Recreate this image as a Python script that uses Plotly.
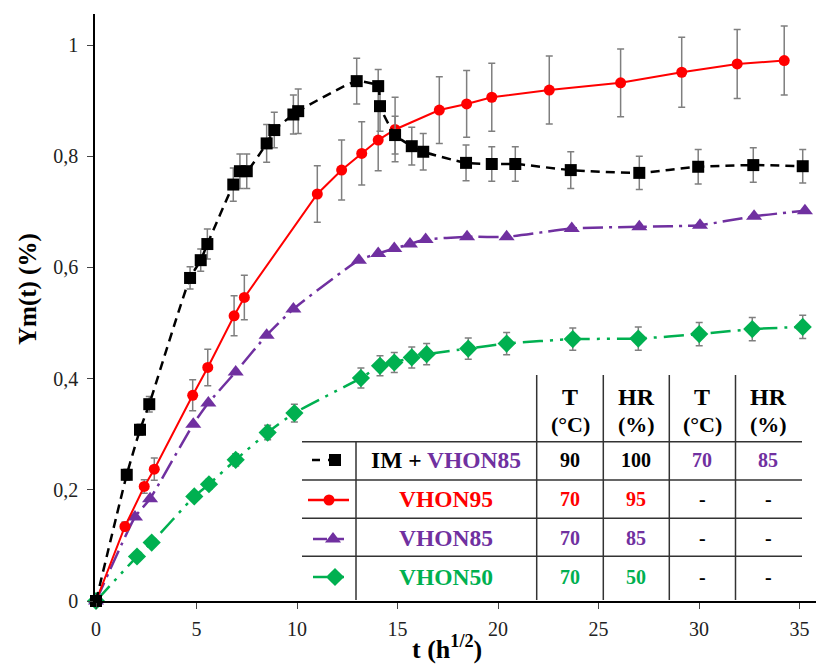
import plotly.graph_objects as go

# ---------------- data ----------------
im_x = [0, 1.53, 2.19, 2.65, 4.68, 5.21, 5.54, 6.83, 7.16, 7.5, 8.49, 8.87, 9.82, 10.06,
        12.97, 14.04, 14.13, 14.88, 15.71, 16.28, 18.41, 19.69, 20.86, 23.62, 27.03, 29.96, 32.7, 35.16]
im_y = [0, 0.227, 0.308, 0.354, 0.581, 0.613, 0.642, 0.749, 0.773, 0.773, 0.823, 0.847, 0.875, 0.881,
        0.935, 0.926, 0.890, 0.838, 0.818, 0.808, 0.788, 0.786, 0.786, 0.775, 0.770, 0.781, 0.784, 0.782]
im_err = [0, 0.01, 0.01, 0.014, 0.02, 0.02, 0.027, 0.03, 0.031, 0.031, 0.034, 0.032, 0.035, 0.04,
          0.041, 0.03, 0.045, 0.034, 0.034, 0.033, 0.032, 0.031, 0.031, 0.033, 0.030, 0.031, 0.031, 0.030]

v95_x = [0, 1.44, 2.4, 2.9, 4.81, 5.56, 6.87, 7.38, 11.01, 12.22, 13.22, 14.04, 14.88,
         17.08, 18.44, 19.69, 22.55, 26.1, 29.14, 31.9, 34.24]
v95_y = [0, 0.134, 0.206, 0.237, 0.370, 0.420, 0.513, 0.546, 0.732, 0.775, 0.805, 0.829, 0.848,
         0.883, 0.894, 0.906, 0.919, 0.932, 0.951, 0.966, 0.972]
v95_err = [0, 0.008, 0.012, 0.02, 0.028, 0.033, 0.036, 0.04, 0.051, 0.054, 0.057, 0.055, 0.058,
           0.06, 0.06, 0.061, 0.061, 0.061, 0.063, 0.062, 0.062]

v85_x = [0, 1.94, 2.69, 4.84, 5.59, 6.95, 8.49, 9.82, 13.08, 14.04, 14.84, 15.62, 16.4,
         18.46, 20.43, 23.67, 27.03, 30.05, 32.74, 35.27]
v85_y = [0, 0.151, 0.184, 0.318, 0.356, 0.412, 0.478, 0.525, 0.613, 0.625, 0.634, 0.642, 0.650,
         0.655, 0.655, 0.670, 0.673, 0.676, 0.692, 0.702]

v50_x = [0, 2.04, 2.77, 4.89, 5.62, 6.95, 8.54, 9.87, 13.18, 14.13, 14.84, 15.71, 16.45,
         18.52, 20.43, 23.72, 26.98, 30.01, 32.65, 35.16]
v50_y = [0, 0.080, 0.105, 0.188, 0.210, 0.254, 0.303, 0.338, 0.401, 0.423, 0.429, 0.438, 0.444,
         0.454, 0.463, 0.471, 0.472, 0.480, 0.489, 0.493]
v50_err = [0, 0.005, 0.006, 0.008, 0.009, 0.011, 0.013, 0.016, 0.018, 0.018, 0.018, 0.019, 0.019,
           0.019, 0.02, 0.02, 0.021, 0.021, 0.021, 0.021]

x_ticks = [0, 5, 10, 15, 20, 25, 30, 35]
y_ticks = [0, 0.2, 0.4, 0.6, 0.8, 1]

series_names = ["IM + VHON85", "VHON95", "VHON85", "VHON50"]
table_T1 = ["90", "70", "70", "70"]
table_HR1 = ["100", "95", "85", "50"]
table_T2 = ["70", "-", "-", "-"]
table_HR2 = ["85", "-", "-", "-"]

# ---------------- styles ----------------
BLACK = "#000000"
RED = "#FF0000"
PURPLE = "#7030A0"
GREEN = "#00B050"
GRAY = "#7F7F7F"
FONT = "Liberation Serif"

W, H = 816, 664
L, R, T, B = 95, 0, 14, 63
PW, PH = W - L - R, H - T - B
X0PX, XSCALE = 96, 20.1
Y0PX, YSCALE = 601, 556


def err(vals):
    return dict(type="data", array=vals, visible=True, color=GRAY, thickness=1.5, width=3.5)


fig = go.Figure()

fig.add_trace(go.Scatter(
    x=v50_x, y=v50_y, mode="lines+markers", cliponaxis=False,
    line=dict(color=GREEN, width=2.5, dash="20px,7px,3px,7px,3px,7px", shape="spline", smoothing=0.5),
    marker=dict(symbol="diamond", size=14, color=GREEN),
    error_y=err(v50_err)))
fig.add_trace(go.Scatter(
    x=v85_x, y=v85_y, mode="lines+markers", cliponaxis=False,
    line=dict(color=PURPLE, width=2.5, dash="20px,6px,3px,6px", shape="spline", smoothing=0.5),
    marker=dict(symbol="triangle-up", size=14, color=PURPLE)))
fig.add_trace(go.Scatter(
    x=v95_x, y=v95_y, mode="lines+markers", cliponaxis=False,
    line=dict(color=RED, width=2),
    marker=dict(symbol="circle", size=11, color=RED),
    error_y=err(v95_err)))
fig.add_trace(go.Scatter(
    x=im_x, y=im_y, mode="lines+markers", cliponaxis=False,
    line=dict(color=BLACK, width=2.5, dash="9px,6px", shape="spline", smoothing=0.5),
    marker=dict(symbol="square", size=12, color=BLACK),
    error_y=err(im_err)))


def px(x):
    return (x - L) / PW


def py(y):
    return (H - B - y) / PH


shapes = []
# table horizontal rules
for yy in [441.7, 480, 518.3, 556.3]:
    shapes.append(dict(type="line", xref="paper", yref="paper", x0=px(302), x1=px(802),
                       y0=py(yy), y1=py(yy), line=dict(color="#333333", width=1.5)))
# vertical rules
shapes.append(dict(type="line", xref="paper", yref="paper", x0=px(356), x1=px(356),
                   y0=py(441.7), y1=py(600), line=dict(color="#333333", width=1.5)))
for xx in [536.7, 603.3, 669.3, 735.5]:
    shapes.append(dict(type="line", xref="paper", yref="paper", x0=px(xx), x1=px(xx),
                       y0=py(375), y1=py(600), line=dict(color="#333333", width=1.5)))

ann = []


def text(x, y, s, size, color=BLACK, angle=0):
    ann.append(dict(x=px(x), y=py(y), xref="paper", yref="paper", text=s, showarrow=False,
                    xanchor="center", yanchor="middle", textangle=angle,
                    font=dict(family=FONT, size=size, color=color)))


# headers
for cx, top, bot in [(570, "T", "(°C)"), (636, "HR", "(%)"), (702, "T", "(°C)"), (768, "HR", "(%)")]:
    text(cx, 397, "<b>" + top + "</b>", 24)
    text(cx, 424, "<b>" + bot + "</b>", 22)

row_y = [460, 499, 538, 577]
row_col = [BLACK, RED, PURPLE, GREEN]
labels = ["<b>IM + <span style='color:%s'>VHON85</span></b>" % PURPLE,
          "<b>" + series_names[1] + "</b>", "<b>" + series_names[2] + "</b>",
          "<b>" + series_names[3] + "</b>"]
for i in range(4):
    text(445.5, row_y[i], labels[i], 23.5, row_col[i])
    c1 = BLACK if i == 0 else row_col[i]
    text(570, row_y[i], "<b>" + table_T1[i] + "</b>", 20, c1)
    text(636, row_y[i], "<b>" + table_HR1[i] + "</b>", 20, c1)
    c2 = PURPLE if i == 0 else BLACK
    text(702, row_y[i], "<b>" + table_T2[i] + "</b>", 20, c2)
    text(768, row_y[i], "<b>" + table_HR2[i] + "</b>", 20, c2)

# axis titles
text(28, 289, "<b>Ym(t) (%)</b>", 25, BLACK, -90)
text(447, 647, "<b>t (h<sup>1/2</sup>)</b>", 26, BLACK)

# legend samples drawn on a hidden pixel-space overlay axis
leg = [
    dict(lx=[312, 330], mx=335, y=460, color=BLACK, dash="8px,8px", sym="square", size=12),
    dict(lx=[308, 349], mx=329, y=500, color=RED, dash="solid", sym="circle", size=11),
    dict(lx=[313, 344], mx=333, y=539, color=PURPLE, dash="14px,4px,2px,4px", sym="triangle-up", size=14),
    dict(lx=[313, 344], mx=335, y=577, color=GREEN, dash="14px,4px,2px,4px", sym="diamond", size=14),
]
for s in leg:
    fig.add_trace(go.Scatter(x=s["lx"], y=[s["y"], s["y"]], mode="lines", xaxis="x2", yaxis="y2",
                             line=dict(color=s["color"], width=2.5, dash=s["dash"]),
                             cliponaxis=False, hoverinfo="skip"))
    fig.add_trace(go.Scatter(x=[s["mx"]], y=[s["y"]], mode="markers", xaxis="x2", yaxis="y2",
                             marker=dict(symbol=s["sym"], size=s["size"], color=s["color"]),
                             cliponaxis=False, hoverinfo="skip"))

fig.update_layout(
    width=W, height=H,
    margin=dict(l=L, r=R, t=T, b=B, autoexpand=False),
    paper_bgcolor="white", plot_bgcolor="white",
    showlegend=False,
    separators=", ",
    font=dict(family=FONT, size=20, color="#222222"),
    xaxis=dict(range=[(L - X0PX) / XSCALE, (W - R - X0PX) / XSCALE], tickvals=x_ticks,
               showgrid=False, zeroline=False, showline=True, linecolor="#000", linewidth=1.5,
               ticks="outside", ticklen=6, tickwidth=1.2, tickcolor="#444", automargin=False,
               tickfont=dict(family=FONT, size=20, color="#222"), ticklabelstandoff=3),
    yaxis=dict(range=[0, (Y0PX - T) / YSCALE], tickvals=y_ticks,
               showgrid=False, zeroline=False, showline=True, linecolor="#000", linewidth=1.5,
               ticks="outside", ticklen=6, tickwidth=1.2, tickcolor="#444", automargin=False,
               tickfont=dict(family=FONT, size=20, color="#222"), ticklabelstandoff=5),
    xaxis2=dict(overlaying="x", range=[L, W - R], visible=False, automargin=False),
    yaxis2=dict(overlaying="y", range=[H - B, T], visible=False, automargin=False),
    shapes=shapes,
    annotations=ann,
)

fig.write_html("out.html", config={"displayModeBar": False},
               post_script="document.body.style.margin='0';document.body.style.overflow='hidden';")
